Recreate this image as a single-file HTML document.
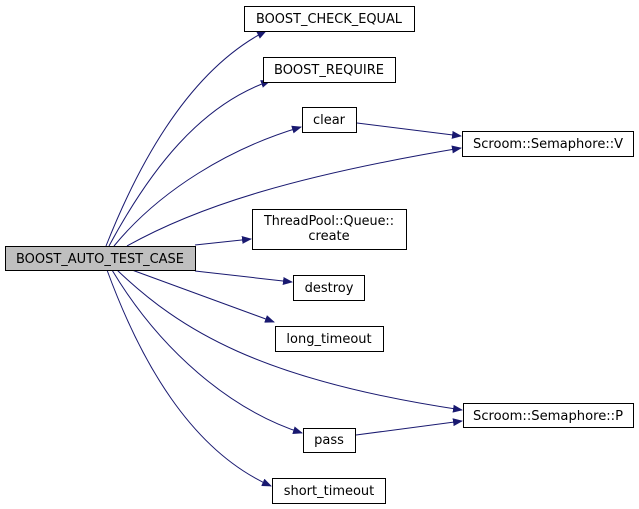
<!DOCTYPE html>
<html><head><style>body{margin:0;background:#fff}svg{display:block}</style></head><body>
<svg width="639" height="509" viewBox="0 0 639 509" xmlns="http://www.w3.org/2000/svg" font-family="DejaVu Sans, Liberation Sans, sans-serif" font-size="13">
<defs><marker id="a" markerWidth="10" markerHeight="8" refX="9" refY="4" orient="auto" markerUnits="userSpaceOnUse"><polygon points="0,0 10,4 0,8" fill="#191970"/></marker></defs>
<g fill="none" stroke="#191970" stroke-width="1" marker-end="url(#a)">
<path d="M106,246 C140,160 190,70 266,31"/>
<path d="M109,246 C150,170 200,105 270,81"/>
<path d="M114,246 C160,190 230,148 301,127"/>
<path d="M127,246 C200,205 300,175 461,148"/>
<path d="M195,245 L251,239"/>
<path d="M195,271 L292,282"/>
<path d="M132,270 L274,322"/>
<path d="M117,270 C180,330 260,380 462,410"/>
<path d="M112,270 C160,350 230,410 302,433"/>
<path d="M107,270 C140,360 190,450 271,486"/>
<path d="M357,123 L461,136"/>
<path d="M356,435 L462,421"/>
</g>
<g stroke="#000" stroke-width="1" fill="#fff">
<rect x="5.5" y="246.5" width="190" height="24" fill="#bfbfbf"/>
<rect x="244.5" y="6.5" width="170" height="25"/>
<rect x="263.5" y="57.5" width="132" height="25"/>
<rect x="302.5" y="107.5" width="54" height="25"/>
<rect x="462.5" y="131.5" width="171" height="25"/>
<rect x="252.5" y="209.5" width="154" height="40"/>
<rect x="293.5" y="275.5" width="71" height="25"/>
<rect x="275.5" y="326.5" width="108" height="25"/>
<rect x="463.5" y="403.5" width="170" height="24"/>
<rect x="303.5" y="428.5" width="52" height="24"/>
<rect x="272.5" y="478.5" width="113" height="25"/>
</g>
<g fill="#000" text-anchor="middle">
<text x="100" y="263" textLength="168" lengthAdjust="spacingAndGlyphs">BOOST_AUTO_TEST_CASE</text>
<text x="329" y="23" textLength="146" lengthAdjust="spacingAndGlyphs">BOOST_CHECK_EQUAL</text>
<text x="329" y="74" textLength="110" lengthAdjust="spacingAndGlyphs">BOOST_REQUIRE</text>
<text x="329" y="124">clear</text>
<text x="548" y="148" textLength="150" lengthAdjust="spacingAndGlyphs">Scroom::Semaphore::V</text>
<text x="329" y="225" textLength="130" lengthAdjust="spacingAndGlyphs">ThreadPool::Queue::</text>
<text x="329" y="240">create</text>
<text x="329" y="292">destroy</text>
<text x="329" y="343">long_timeout</text>
<text x="548" y="420" textLength="150" lengthAdjust="spacingAndGlyphs">Scroom::Semaphore::P</text>
<text x="329" y="444">pass</text>
<text x="329" y="495">short_timeout</text>
</g>
</svg>
</body></html>
